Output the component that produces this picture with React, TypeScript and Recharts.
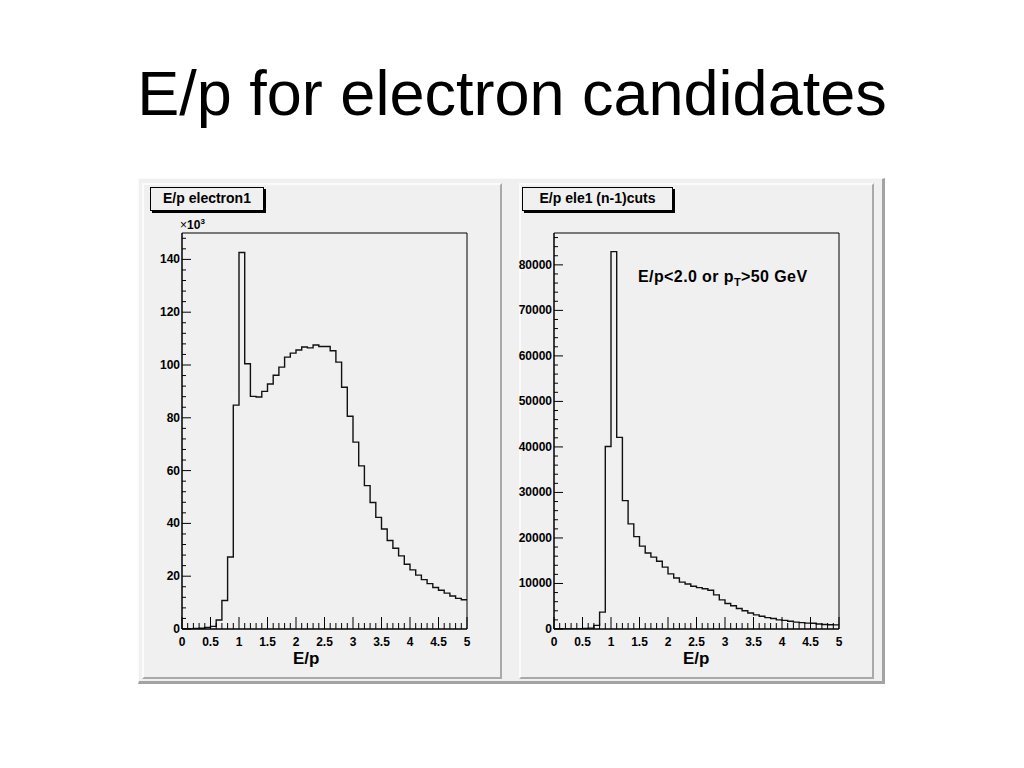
import React from 'react';
import { LineChart, Line, XAxis, YAxis, ReferenceArea } from 'recharts';

// bin contents, 50 bins of 0.1 from E/p = 0 to 5
const electron1Counts = [
  0, 0, 0.2, 0.3, 0.6, 1.0, 3.4, 10.8, 27.3, 84.8,
  142.6, 100.5, 88.1, 87.9, 90.0, 92.8, 96.1, 99.2, 103.0, 104.5,
  105.7, 106.8, 106.5, 107.6, 107.0, 107.0, 105.4, 101.1, 91.6, 80.6,
  70.8, 61.8, 54.3, 47.9, 42.3, 37.9, 33.5, 30.6, 27.7, 24.5,
  22.4, 20.4, 18.7, 17.2, 15.7, 14.7, 13.6, 12.5, 11.6, 11.1,
];

const nMinus1Counts = [
  0, 0, 0, 0, 0, 100, 200, 800, 3700, 40100,
  82900, 42100, 28200, 23100, 20300, 18200, 16700, 15800, 14900, 13600,
  12100, 11200, 10300, 9900, 9400, 9100, 8850, 8500, 7500, 6400,
  5600, 5100, 4500, 4000, 3500, 3100, 2800, 2500, 2300, 2000,
  1900, 1700, 1500, 1400, 1300, 1250, 1100, 1000, 950, 900,
];

const BIN_WIDTH = 0.1;
const NUM_BINS = 50;

const xTicks = Array.from({ length: NUM_BINS + 1 }, (_, i) => i / 10);
const leftYTicks = Array.from({ length: 38 }, (_, i) => i * 4);
const rightYTicks = Array.from({ length: 44 }, (_, i) => i * 2000);

const FONT = '"Liberation Sans", Arial, Helvetica, sans-serif';

// one point per bin edge, last bin repeated so the step reaches x = 5
const toSteps = (counts: number[]) => {
  const rows = counts.map((v, i) => ({ x: Math.round(i * BIN_WIDTH * 10) / 10, v }));
  rows.push({ x: NUM_BINS * BIN_WIDTH, v: counts[counts.length - 1] });
  return rows;
};

const XTick = (props: any) => {
  const { x, y, payload } = props;
  const v = payload.value;
  const major = Math.round(v * 10) % 5 === 0;
  return (
    <g>
      <line x1={x} y1={y} x2={x} y2={y - (major ? 12 : 6)} stroke="#000" strokeWidth={1} />
      {major && (
        <text x={x} y={y + 17} textAnchor="middle" fontSize={12} fontWeight="bold" fontFamily={FONT} fill="#000">
          {String(v)}
        </text>
      )}
    </g>
  );
};

const makeYTick = (labelStep: number) => (props: any) => {
  const { x, y, payload } = props;
  const v = payload.value;
  const major = v % labelStep === 0;
  return (
    <g>
      <line x1={x} y1={y} x2={x + (major ? 9 : 4)} y2={y} stroke="#000" strokeWidth={1} />
      {major && (
        <text x={x - 2} y={y + 4} textAnchor="end" fontSize={12} fontWeight="bold" fontFamily={FONT} fill="#000">
          {String(v)}
        </text>
      )}
    </g>
  );
};

const Histo = ({ counts, yMax, yTicks, labelStep }: any) => (
  <LineChart
    width={360}
    height={494}
    data={toSteps(counts)}
    margin={{ top: 50, right: 35, left: 0, bottom: 0 }}
  >
    <XAxis
      dataKey="x"
      type="number"
      domain={[0, 5]}
      ticks={xTicks}
      interval={0}
      height={48}
      tickSize={0}
      tickMargin={0}
      tickLine={false}
      axisLine={{ stroke: '#000' }}
      tick={<XTick />}
      allowDecimals
    />
    <YAxis
      type="number"
      domain={[0, yMax]}
      ticks={yTicks}
      interval={0}
      width={40}
      tickSize={0}
      tickMargin={0}
      tickLine={false}
      axisLine={{ stroke: '#000' }}
      tick={makeYTick(labelStep)}
      allowDataOverflow
    />
    <ReferenceArea x1={0} x2={5} y1={0} y2={yMax} fill="none" stroke="#000" strokeWidth={1} />
    <Line
      type="stepAfter"
      dataKey="v"
      stroke="#111"
      strokeWidth={1.4}
      dot={false}
      isAnimationActive={false}
    />
  </LineChart>
);

const boxTitle = (left: number, width: number, text: string) => (
  <div
    style={{
      position: 'absolute',
      left,
      top: 187,
      width,
      height: 22,
      border: '1px solid #000',
      boxShadow: '2px 2px 0 #000',
      background: '#f0f0f0',
      fontFamily: FONT,
      fontWeight: 'bold',
      fontSize: 14,
      lineHeight: '21px',
      textAlign: 'center',
    }}
  >
    {text}
  </div>
);

const padStyle = (left: number, width: number): React.CSSProperties => ({
  position: 'absolute',
  left,
  top: 183,
  width,
  height: 492,
  background: '#f0f0f0',
  borderTop: '2px solid #fbfbfb',
  borderLeft: '2px solid #fbfbfb',
  borderRight: '2px solid #a9a9a9',
  borderBottom: '2px solid #a9a9a9',
});

export default function App() {
  return (
    <div style={{ position: 'absolute', left: 0, top: 0, width: 1024, height: 768, background: '#fff', overflow: 'hidden' }}>
      <div
        style={{
          position: 'absolute',
          left: 0,
          top: 57,
          width: 1024,
          textAlign: 'center',
          fontFamily: FONT,
          fontSize: 63,
          lineHeight: '72px',
          color: '#000',
        }}
      >
        E/p for electron candidates
      </div>

      {/* canvas with bevel */}
      <div
        style={{
          position: 'absolute',
          left: 138,
          top: 178,
          width: 743,
          height: 502,
          background: '#f0f0f0',
          borderTop: '1px solid #fafafa',
          borderLeft: '1px solid #fafafa',
          borderRight: '3px solid #a3a3a3',
          borderBottom: '3px solid #a3a3a3',
        }}
      />
      <div style={padStyle(142, 356)} />
      <div style={padStyle(519, 351)} />

      {boxTitle(150, 112, 'E/p electron1')}
      {boxTitle(522, 149, 'E/p ele1 (n-1)cuts')}

      <div style={{ position: 'absolute', left: 142, top: 183 }}>
        <Histo counts={electron1Counts} yMax={150} yTicks={leftYTicks} labelStep={20} />
      </div>
      <div style={{ position: 'absolute', left: 514, top: 183 }}>
        <Histo counts={nMinus1Counts} yMax={87000} yTicks={rightYTicks} labelStep={10000} />
      </div>

      <div
        style={{
          position: 'absolute',
          left: 293,
          top: 649,
          fontFamily: FONT,
          fontWeight: 'bold',
          fontSize: 17,
        }}
      >
        E/p
      </div>
      <div
        style={{
          position: 'absolute',
          left: 683,
          top: 649,
          fontFamily: FONT,
          fontWeight: 'bold',
          fontSize: 17,
        }}
      >
        E/p
      </div>

      <div style={{ position: 'absolute', left: 180, top: 218, fontFamily: FONT, fontSize: 12, lineHeight: '14px', whiteSpace: 'nowrap' }}>
        ×<b>10</b>
        <span style={{ fontSize: 8, fontWeight: 'bold', position: 'relative', top: -5 }}>3</span>
      </div>

      <div
        style={{
          position: 'absolute',
          left: 638,
          top: 268,
          fontFamily: FONT,
          fontWeight: 'bold',
          fontSize: 16,
          letterSpacing: 0.4,
          whiteSpace: 'nowrap',
        }}
      >
        E/p&lt;2.0 or p<sub style={{ fontSize: 11 }}>T</sub>&gt;50 GeV
      </div>
    </div>
  );
}
